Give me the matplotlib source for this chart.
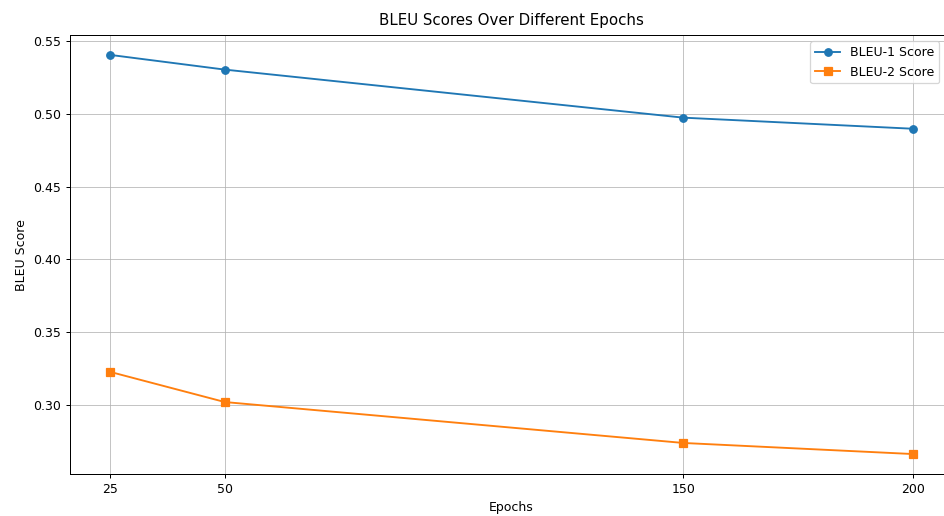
import matplotlib.pyplot as plt

# BLEU scores per training epoch
epochs = [25, 50, 150, 200]
bleu1 = [0.5404, 0.5303, 0.4973, 0.4897]
bleu2 = [0.3227, 0.3020, 0.2739, 0.2663]

fig = plt.figure(figsize=(10.49, 5.735), dpi=90)
ax = fig.add_axes([0.0742, 0.0814, 0.935, 0.8506])

ax.plot(epochs, bleu1, marker='o', label='BLEU-1 Score')
ax.plot(epochs, bleu2, marker='s', label='BLEU-2 Score')

ax.set_title('BLEU Scores Over Different Epochs', pad=8)
ax.set_xlabel('Epochs')
ax.set_ylabel('BLEU Score')
ax.set_xticks(epochs)
ax.legend(loc='upper right', bbox_to_anchor=(0.992, 1.0))
ax.grid(True, alpha=0.75)
ax.spines['right'].set_visible(False)

fig.savefig('out.png', dpi=90)
